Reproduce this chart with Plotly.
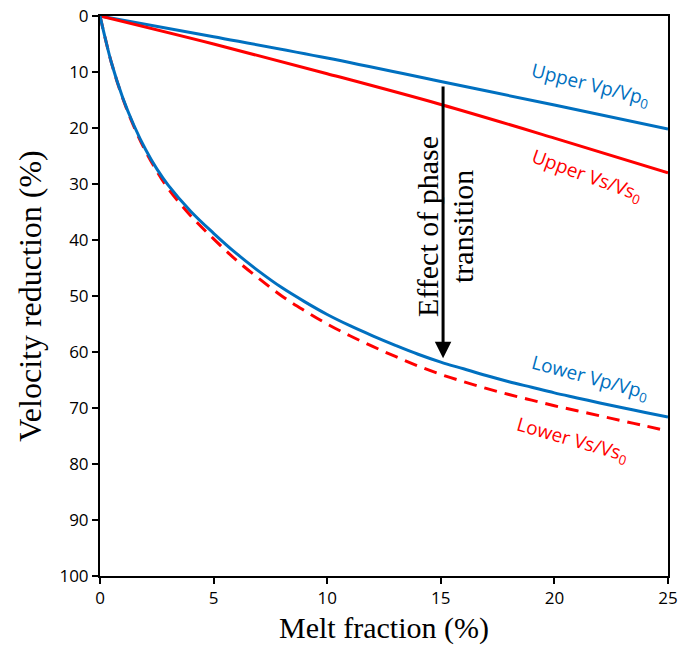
import plotly.graph_objects as go

# Melt fraction (%) sample points
melt_upper = [0, 5, 10, 15, 20, 25]
upper_vp = [0, 3.7, 7.5, 11.7, 15.9, 20.2]
upper_vs = [0, 5.0, 10.3, 15.8, 21.8, 28.0]

melt_lower = [0, 0.25, 0.5, 1, 1.5, 2, 2.5, 3, 4, 5, 6, 7, 8, 9, 10, 11, 12,
              13, 14, 15, 16, 17, 18, 19, 20, 21, 22, 23, 24, 25]
lower_vp = [0, 4.3, 8.3, 14.6, 19.6, 23.8, 27.3, 30.2, 34.9, 38.8, 42.4, 45.6,
            48.5, 51.0, 53.3, 55.3, 57.1, 58.8, 60.4, 61.8, 63.0, 64.2, 65.3,
            66.3, 67.3, 68.2, 69.1, 69.95, 70.8, 71.6]
lower_vs = [0, 4.3, 8.3, 14.7, 19.8, 24.1, 27.7, 30.8, 35.7, 39.8, 43.6, 46.9,
            50.0, 52.6, 55.0, 57.1, 59.0, 60.8, 62.5, 64.0, 65.3, 66.5, 67.6,
            68.6, 69.6, 70.5, 71.4, 72.3, 73.2, 74.1]

# Phase-transition arrow: melt fraction, start and end reduction
arrow_x = 15.1
arrow_from = 12.3
arrow_to = 61.1

BLUE = "#0070C0"
RED = "#FF0000"
SANS = "Open Sans"
SERIF = "Liberation Serif, Times New Roman, serif"

fig = go.Figure()
fig.add_trace(go.Scatter(x=melt_upper, y=upper_vp, mode="lines",
                         line=dict(color=BLUE, width=3), line_shape="spline"))
fig.add_trace(go.Scatter(x=melt_upper, y=upper_vs, mode="lines",
                         line=dict(color=RED, width=3), line_shape="spline"))
fig.add_trace(go.Scatter(x=melt_lower, y=lower_vs, mode="lines",
                         line=dict(color=RED, width=3, dash="13px,8px"),
                         line_shape="spline"))
fig.add_trace(go.Scatter(x=melt_lower, y=lower_vp, mode="lines",
                         line=dict(color=BLUE, width=3), line_shape="spline"))

labels = [
    (590, 85, 14, BLUE, "Upper Vp/Vp<sub>0</sub>"),
    (587, 176, 20, RED, "Upper Vs/Vs<sub>0</sub>"),
    (590, 378, 15, BLUE, "Lower Vp/Vp<sub>0</sub>"),
    (572, 440, 16, RED, "Lower Vs/Vs<sub>0</sub>"),
]

L, R, T, B = 100, 23, 16, 69
W, H = 691, 645
pw, ph = W - L - R, H - T - B

annotations = []
for px, py, ang, col, txt in labels:
    annotations.append(dict(
        x=(px - L) / pw, y=1 - (py - T) / ph, xref="paper", yref="paper",
        text=txt, showarrow=False, textangle=ang,
        font=dict(family=SANS, size=19, color=col),
        xanchor="center", yanchor="middle"))

annotations.append(dict(
    x=arrow_x, y=arrow_to, ax=arrow_x, ay=arrow_from,
    xref="x", yref="y", axref="x", ayref="y",
    text="", showarrow=True, arrowhead=2, arrowsize=1.1, arrowwidth=3,
    arrowcolor="black", standoff=0, startstandoff=0))

for cx, txt in [(427, "Effect of phase"), (462, "transition")]:
    annotations.append(dict(
        x=(cx - L) / pw, y=1 - (227 - T) / ph, xref="paper", yref="paper",
        text=txt, showarrow=False, textangle=-90,
        font=dict(family=SERIF, size=30, color="black"),
        xanchor="center", yanchor="middle"))

axis_common = dict(
    showgrid=False, zeroline=False, showline=True, linecolor="black",
    linewidth=2, mirror=True, ticks="outside", ticklen=6, tickwidth=2,
    tickcolor="black", automargin=False,
    tickfont=dict(family=SANS, size=17, color="black"))

fig.update_layout(
    width=W, height=H, showlegend=False,
    margin=dict(l=L, r=R, t=T, b=B),
    plot_bgcolor="white", paper_bgcolor="white",
    annotations=annotations,
    xaxis=dict(range=[0, 25], dtick=5, tick0=0,
               title=dict(text="Melt fraction (%)", standoff=10,
                          font=dict(family=SERIF, size=30, color="black")),
               **axis_common),
    yaxis=dict(range=[100, 0], dtick=10, tick0=0,
               title=dict(text="Velocity reduction (%)", standoff=8,
                          font=dict(family=SERIF, size=32, color="black")),
               **axis_common),
)

fig.write_html("out.html")
